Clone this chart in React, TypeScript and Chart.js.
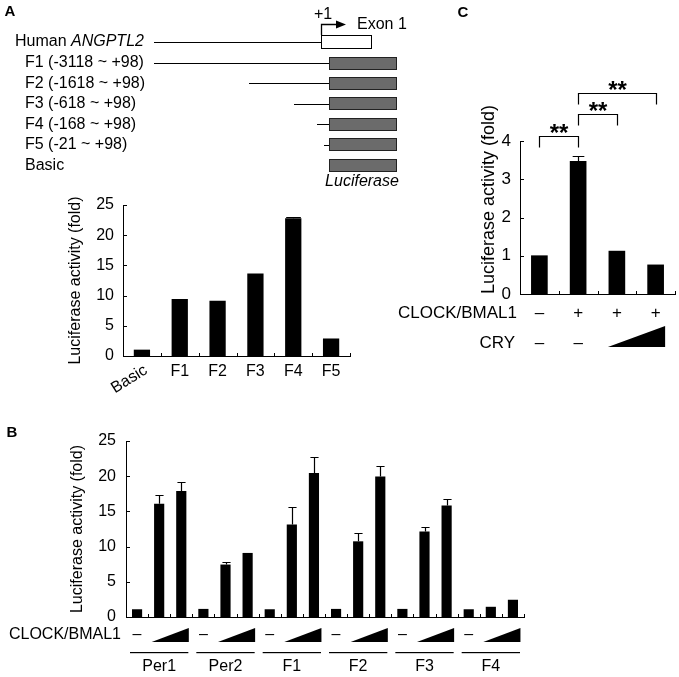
import React, { useEffect, useRef } from 'react';
import { Chart, registerables } from 'chart.js';

Chart.register(...registerables);

const FONT = "'Liberation Sans', Arial, Helvetica, sans-serif";
const Y_TITLE = 'Luciferase activity (fold)';

// ---------------- Panel A data ----------------
const aCategories = ['Basic', 'F1', 'F2', 'F3', 'F4', 'F5'];
const aValues = [1.05, 9.45, 9.15, 13.65, 22.8, 2.9];
const aErrors = [0.05, 0.08, 0.15, 0.1, 0.25, 0.05];
const aYTicks = [0, 5, 10, 15, 20, 25];
const aConstructs = ['F1 (-3118 ~ +98)', 'F2 (-1618 ~ +98)', 'F3 (-618 ~ +98)', 'F4 (-168 ~ +98)', 'F5 (-21 ~ +98)', 'Basic'];
// schematic start of each promoter fragment (drawing position, not data)
const aLineStartX = [154, 249, 294, 317, 324, null];

// ---------------- Panel B data ----------------
const bGroups = ['Per1', 'Per2', 'F1', 'F2', 'F3', 'F4'];
const bConditions = ['none', 'low', 'high'];
const bValues = [
  1.1, 16.1, 17.9,
  1.15, 7.45, 9.1,
  1.1, 13.15, 20.45,
  1.15, 10.75, 19.95,
  1.15, 12.15, 15.85,
  1.1, 1.45, 2.45,
];
const bErrors = [
  0.05, 1.2, 1.3,
  0.05, 0.38, 0.15,
  0.05, 2.45, 2.3,
  0.05, 1.15, 1.45,
  0.05, 0.7, 0.85,
  0.05, 0.05, 0.05,
];
const bYTicks = [0, 5, 10, 15, 20, 25];

// ---------------- Panel C data ----------------
const cCategories = ['control', 'CLOCK/BMAL1', 'CLOCK/BMAL1 + CRY low', 'CLOCK/BMAL1 + CRY high'];
const cValues = [1.01, 3.48, 1.13, 0.77];
const cErrors = [0.02, 0.12, 0.02, 0.02];
const cClockRow = ['–', '+', '+', '+'];
const cCryRow = ['–', '–', 'ramp', 'ramp'];
const cSignificance: [number, number, string][] = [[0, 1, '**'], [1, 2, '**'], [1, 3, '**']];
const cBracketLevels = [4.12, 4.7, 5.25];
const cYTicks = [0, 1, 2, 3, 4];

// ---------------- helpers ----------------
function baseOptions(o: any) {
  return {
    responsive: false,
    animation: false,
    devicePixelRatio: 1,
    events: [],
    layout: { padding: o.padding },
    plugins: { legend: { display: false }, tooltip: { enabled: false }, title: { display: false } },
    scales: {
      x: {
        type: 'category',
        offset: true,
        grid: { display: false, drawTicks: false },
        border: { display: true, color: '#000', width: 1 },
        ticks: { display: false },
        afterFit: (s: any) => { s.height = o.xHeight; },
      },
      y: {
        type: 'linear',
        min: o.yTicks[0],
        max: o.yTicks[o.yTicks.length - 1],
        grid: { display: false, drawTicks: false },
        border: { display: true, color: '#000', width: 1 },
        afterBuildTicks: (s: any) => { s.ticks = o.yTicks.map((v: number) => ({ value: v })); },
        ticks: { color: '#000', font: { family: FONT, size: o.fontSize }, padding: o.tickPadding },
        title: {
          display: true,
          text: Y_TITLE,
          align: o.titleAlign || 'center',
          color: '#000',
          font: { family: FONT, size: o.titleSize || o.fontSize },
          padding: { top: 4, bottom: 0 },
        },
        afterFit: (s: any) => { s.width = o.yWidth; },
      },
    },
  };
}

function drawTicksAndErrors(chart: any, errors: number[], capRatio: number) {
  const { ctx, chartArea } = chart;
  const x = chart.scales.x;
  const y = chart.scales.y;
  ctx.save();
  ctx.strokeStyle = '#000';
  ctx.lineWidth = 1;
  ctx.beginPath();
  y.ticks.forEach((t: any) => {
    const py = Math.round(y.getPixelForValue(t.value)) + 0.5;
    ctx.moveTo(chartArea.left, py);
    ctx.lineTo(chartArea.left + 4, py);
  });
  const n = x.getLabels().length;
  const cw = x.getPixelForValue(1) - x.getPixelForValue(0);
  for (let i = 1; i <= n; i++) {
    const px = Math.round(x.getPixelForValue(i) - cw / 2) + 0.5;
    ctx.moveTo(px, chartArea.bottom);
    ctx.lineTo(px, chartArea.bottom - 3);
  }
  ctx.stroke();

  const meta = chart.getDatasetMeta(0);
  const data = chart.data.datasets[0].data;
  ctx.lineWidth = 1.2;
  ctx.beginPath();
  meta.data.forEach((bar: any, i: number) => {
    const v = data[i];
    const e = errors[i];
    const y0 = y.getPixelForValue(v);
    const y1 = y.getPixelForValue(v + e);
    if (y0 - y1 < 1.5) return;
    const bx = Math.round(bar.x) + 0.5;
    const hw = (bar.width * capRatio) / 2;
    const yc = Math.round(y1) + 0.5;
    ctx.moveTo(bx, y0);
    ctx.lineTo(bx, yc);
    ctx.moveTo(bx - hw, yc);
    ctx.lineTo(bx + hw, yc);
  });
  ctx.stroke();
  ctx.restore();
}

function drawA(chart: any) {
  const { ctx } = chart;
  const x = chart.scales.x;
  ctx.save();
  ctx.fillStyle = '#000';
  ctx.strokeStyle = '#000';
  ctx.lineWidth = 1;
  ctx.textBaseline = 'middle';

  ctx.font = `bold 15px ${FONT}`;
  ctx.textAlign = 'center';
  ctx.fillText('A', 10, 12);

  // x labels
  ctx.font = `16px ${FONT}`;
  aCategories.forEach((c, i) => {
    const px = x.getPixelForValue(i);
    if (i === 0) {
      ctx.save();
      ctx.translate(px + 4, 369);
      ctx.rotate((-32 * Math.PI) / 180);
      ctx.textAlign = 'right';
      ctx.fillText(c, 0, 0);
      ctx.restore();
    } else {
      ctx.textAlign = 'center';
      ctx.fillText(c, px, 372);
    }
  });

  // gene diagram
  ctx.textAlign = 'left';
  ctx.font = `16px ${FONT}`;
  ctx.fillText('Human ', 15, 42);
  const hw = ctx.measureText('Human ').width;
  ctx.font = `italic 16px ${FONT}`;
  ctx.fillText('ANGPTL2', 15 + hw, 42);
  ctx.beginPath();
  ctx.moveTo(154, 42.5);
  ctx.lineTo(321, 42.5);
  ctx.stroke();
  ctx.fillStyle = '#fff';
  ctx.fillRect(321, 35, 50, 13);
  ctx.fillStyle = '#000';
  ctx.strokeRect(321.5, 35.5, 50, 13);
  // transcription start arrow
  ctx.lineWidth = 1.3;
  ctx.beginPath();
  ctx.moveTo(321.5, 35);
  ctx.lineTo(321.5, 24.5);
  ctx.lineTo(337, 24.5);
  ctx.stroke();
  ctx.beginPath();
  ctx.moveTo(336, 20.5);
  ctx.lineTo(346, 24.5);
  ctx.lineTo(336, 28.5);
  ctx.closePath();
  ctx.fill();
  ctx.lineWidth = 1;
  ctx.font = `16px ${FONT}`;
  ctx.textAlign = 'center';
  ctx.fillText('+1', 323, 15);
  ctx.textAlign = 'left';
  ctx.fillText('Exon 1', 357, 25);

  aConstructs.forEach((label, i) => {
    const ry = 63 + 20.45 * i;
    ctx.fillStyle = '#000';
    ctx.textAlign = 'left';
    ctx.font = `16px ${FONT}`;
    ctx.fillText(label, 25, ry);
    const sx = aLineStartX[i];
    if (sx !== null) {
      ctx.beginPath();
      ctx.moveTo(sx, Math.round(ry) + 0.5);
      ctx.lineTo(329, Math.round(ry) + 0.5);
      ctx.stroke();
    }
    ctx.fillStyle = '#6b6b6b';
    ctx.fillRect(329, Math.round(ry - 6.5), 68, 13);
    ctx.strokeStyle = '#222';
    ctx.strokeRect(329.5, Math.round(ry - 6.5) + 0.5, 67, 12);
    ctx.strokeStyle = '#000';
  });
  ctx.fillStyle = '#000';
  ctx.font = `italic 16px ${FONT}`;
  ctx.textAlign = 'center';
  ctx.fillText('Luciferase', 362, 182);
  ctx.restore();
}

function drawB(chart: any) {
  const { ctx } = chart;
  const x = chart.scales.x;
  const oy = 395;
  ctx.save();
  ctx.fillStyle = '#000';
  ctx.strokeStyle = '#000';
  ctx.textBaseline = 'middle';
  ctx.font = `bold 15px ${FONT}`;
  ctx.textAlign = 'center';
  ctx.fillText('B', 12, 433 - oy);

  ctx.font = `16px ${FONT}`;
  ctx.textAlign = 'right';
  const rowY = 635 - oy;
  ctx.fillText('CLOCK/BMAL1', 121, rowY);
  const cw = x.getPixelForValue(1) - x.getPixelForValue(0);
  const per = bConditions.length;
  bGroups.forEach((g, gi) => {
    const i0 = gi * per;
    ctx.textAlign = 'center';
    ctx.fillText('–', x.getPixelForValue(i0), rowY);
    const xl = x.getPixelForValue(i0 + 1) - 0.34 * cw;
    const xr = x.getPixelForValue(i0 + per - 1) + 0.34 * cw;
    ctx.beginPath();
    ctx.moveTo(xl, 642 - oy);
    ctx.lineTo(xr, 642 - oy);
    ctx.lineTo(xr, 628 - oy);
    ctx.closePath();
    ctx.fill();
    const ul = x.getPixelForValue(i0) - cw / 2 + 4;
    const ur = x.getPixelForValue(i0 + per - 1) + cw / 2 - 4;
    ctx.fillRect(ul, 652 - oy, ur - ul, 1.2);
    ctx.fillText(g, x.getPixelForValue(i0 + 1), 667 - oy);
  });
  ctx.restore();
}

function drawC(chart: any) {
  const { ctx } = chart;
  const x = chart.scales.x;
  const y = chart.scales.y;
  const ox = 395;
  ctx.save();
  ctx.fillStyle = '#000';
  ctx.strokeStyle = '#000';
  ctx.textBaseline = 'middle';
  ctx.font = `bold 15px ${FONT}`;
  ctx.textAlign = 'center';
  ctx.fillText('C', 463 - ox, 13);

  ctx.font = `17px ${FONT}`;
  ctx.textAlign = 'right';
  ctx.fillText('CLOCK/BMAL1', 517 - ox, 313);
  ctx.fillText('CRY', 515 - ox, 343);
  ctx.textAlign = 'center';
  cClockRow.forEach((m, i) => ctx.fillText(m, x.getPixelForValue(i), 313));
  const ramp: number[] = [];
  cCryRow.forEach((m, i) => {
    if (m === 'ramp') ramp.push(i);
    else ctx.fillText(m, x.getPixelForValue(i), 343);
  });
  if (ramp.length) {
    const xl = x.getPixelForValue(ramp[0]) - 9;
    const xr = x.getPixelForValue(ramp[ramp.length - 1]) + 9.5;
    ctx.beginPath();
    ctx.moveTo(xl, 347);
    ctx.lineTo(xr, 347);
    ctx.lineTo(xr, 326);
    ctx.closePath();
    ctx.fill();
  }

  // significance brackets
  ctx.lineWidth = 1.2;
  cSignificance.forEach(([a, b, star], k) => {
    const top = Math.round(y.getPixelForValue(cBracketLevels[k])) + 0.5;
    const xa = Math.round(x.getPixelForValue(a)) + 0.5;
    const xb = Math.round(x.getPixelForValue(b)) + 0.5;
    ctx.beginPath();
    ctx.moveTo(xa, top + 11);
    ctx.lineTo(xa, top);
    ctx.lineTo(xb, top);
    ctx.lineTo(xb, top + 11);
    ctx.stroke();
    ctx.font = `bold 24px ${FONT}`;
    ctx.textBaseline = 'alphabetic';
    ctx.fillText(star, (xa + xb) / 2, top - 9 + 13);
    ctx.textBaseline = 'middle';
  });
  ctx.restore();
}

function buildA() {
  return {
    type: 'bar',
    data: {
      labels: aCategories,
      datasets: [{ data: aValues, backgroundColor: '#000', barPercentage: 0.43, categoryPercentage: 1 }],
    },
    options: baseOptions({
      padding: { left: 62, top: 205, right: 70, bottom: 0 },
      yWidth: 61, xHeight: 39, yTicks: aYTicks, fontSize: 16, tickPadding: 9,
    }),
    plugins: [{ id: 'panelA', afterDraw: (c: any) => { drawTicksAndErrors(c, aErrors, 0.9); drawA(c); } }],
  };
}

function buildB() {
  return {
    type: 'bar',
    data: {
      labels: bGroups.flatMap((g) => bConditions.map((c) => `${g} ${c}`)),
      datasets: [{ data: bValues, backgroundColor: '#000', barPercentage: 0.46, categoryPercentage: 1 }],
    },
    options: baseOptions({
      padding: { left: 64, top: 46, right: 155, bottom: 0 },
      yWidth: 62, xHeight: 60, yTicks: bYTicks, fontSize: 16, tickPadding: 10,
    }),
    plugins: [{ id: 'panelB', afterDraw: (c: any) => { drawTicksAndErrors(c, bErrors, 0.8); drawB(c); } }],
  };
}

function buildC() {
  return {
    type: 'bar',
    data: {
      labels: cCategories,
      datasets: [{ data: cValues, backgroundColor: '#000', barPercentage: 0.43, categoryPercentage: 1 }],
    },
    options: baseOptions({
      padding: { left: 79, top: 141, right: 4, bottom: 0 },
      yWidth: 46, xHeight: 66, yTicks: cYTicks, fontSize: 17, tickPadding: 9,
      titleSize: 18, titleAlign: 'start',
    }),
    plugins: [{ id: 'panelC', afterDraw: (c: any) => { drawTicksAndErrors(c, cErrors, 0.7); drawC(c); } }],
  };
}

function Panel({ left, top, width, height, build }: any) {
  const ref = useRef<HTMLCanvasElement>(null);
  useEffect(() => {
    const chart = new Chart(ref.current as HTMLCanvasElement, build());
    return () => chart.destroy();
  }, []);
  return (
    <canvas
      ref={ref}
      width={width}
      height={height}
      style={{ position: 'absolute', left, top, width, height, display: 'block' }}
    />
  );
}

export default function App() {
  return (
    <div style={{ position: 'absolute', left: 0, top: 0, width: 679, height: 677, background: '#fff', overflow: 'hidden' }}>
      <Panel left={0} top={0} width={420} height={395} build={buildA} />
      <Panel left={395} top={0} width={284} height={360} build={buildC} />
      <Panel left={0} top={395} width={679} height={282} build={buildB} />
    </div>
  );
}
